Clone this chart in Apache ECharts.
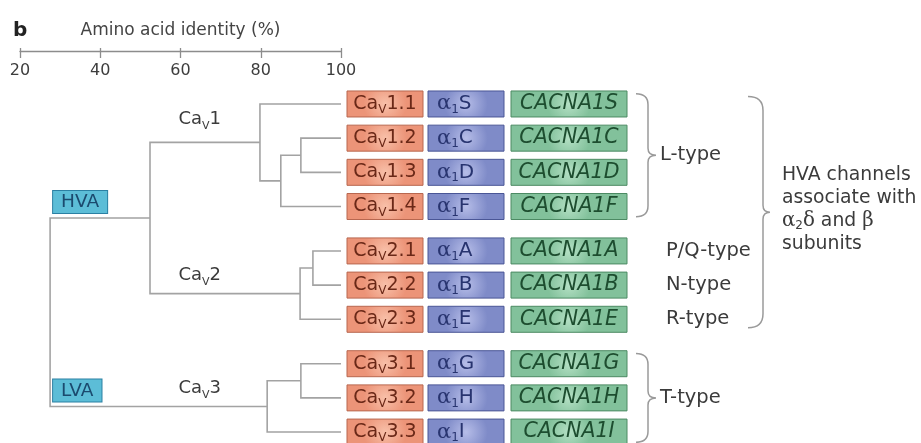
<!DOCTYPE html>
<html><head><meta charset="utf-8">
<script src="https://cdn.jsdelivr.net/npm/echarts@6/dist/echarts.min.js"></script>
<style>html,body{margin:0;padding:0;background:#fff}#c{width:921px;height:443px}</style>
</head><body><div id="c"></div>
<script>
// ---------- data ----------
const axisTicks = [20, 40, 60, 80, 100];
const leafNames = ['1.1','1.2','1.3','1.4','2.1','2.2','2.3','3.1','3.2','3.3'];
const leafGroup = [0,0,0,0,1,1,1,2,2,2];
const proteinNames = ['S','C','D','F','A','B','E','G','H','I'];
const geneNames = ['CACNA1S','CACNA1C','CACNA1D','CACNA1F','CACNA1A','CACNA1B','CACNA1E','CACNA1G','CACNA1H','CACNA1I'];
// merges: [left, right, amino acid identity %]; merge k is referenced as 'm'+k
const merges = [
  ['1.2','1.3',90.0],
  ['m0','1.4',85.0],
  ['1.1','m1',79.8],
  ['2.1','2.2',93.0],
  ['m3','2.3',89.8],
  ['m2','m4',52.4],
  ['3.1','3.2',90.0],
  ['m6','3.3',81.6],
  ['m5','m7',27.5]
];
const cladeNames = ['1','2','3'];
const cladeNodes = ['m2','m4','m7'];
const classNames = ['HVA','LVA'];
const classNodes = ['m5','m7'];
const typeNames = ['L-type','P/Q-type','N-type','R-type','T-type'];
const typeRows = [['1.1','1.4'],['2.1','2.1'],['2.2','2.2'],['2.3','2.3'],['3.1','3.3']];
const typeBrace = [true,false,false,false,true];
const noteLines = ['HVA channels','associate with','{g|α}{s|2}{g|δ}{t| and }{g|β}','subunits'];
const noteRows = ['1.1','2.3'];

// ---------- layout from data ----------
const GAP = 0.3;
const rowY = leafNames.map((n,i)=> i + GAP*leafGroup[i]);
const pos = {};
leafNames.forEach((n,i)=> pos[n] = {x:100, y:rowY[i]});
merges.forEach((m,k)=>{ const a=pos[m[0]], b=pos[m[1]]; pos['m'+k] = {x:m[2], y:(a.y+b.y)/2}; });
const rootId = 'm'+(merges.length-1);
const treeLines = merges.map((m,k)=>{
  const a=pos[m[0]], b=pos[m[1]], n=pos['m'+k];
  return {coords:[[a.x,a.y],[n.x,a.y],[n.x,b.y],[b.x,b.y]]};
});
const rowIdx = n => leafNames.indexOf(n);

const FONT = 'DejaVu Sans';
const SERIF = 'DejaVu Serif';
const TXT = '#3b3b3b';

function grad(c0, c1){
  return new echarts.graphic.RadialGradient(0.5,0.5,0.8,[{offset:0,color:c0},{offset:1,color:c1}]);
}
function rich(fill, size, lh){
  lh = lh || 24;
  return {
    t:{fontSize:size, fontFamily:FONT, fill:fill, lineHeight:lh},
    i:{fontSize:size, fontFamily:FONT, fontStyle:'italic', fill:fill, lineHeight:lh},
    g:{fontSize:size+1, fontFamily:SERIF, fill:fill, lineHeight:lh},
    s:{fontSize:Math.round(size*0.62), fontFamily:FONT, fill:fill, lineHeight:12, verticalAlign:'bottom'}
  };
}

function renderRow(params, api){
  const i = api.value(2);
  const p = api.coord([api.value(0), api.value(1)]);
  const x0 = p[0] + 6, h = 26, top = p[1] - h/2;
  const boxes = [
    {x:x0, w:76, c:['#f8c0a9','#ec9478'], s:'#b8674f'},
    {x:x0+81, w:76, c:['#b6bde8','#7f8bc8'], s:'#4a5696'},
    {x:x0+164, w:116, c:['#b4e0c4','#82c19b'], s:'#4c8a63'}
  ];
  const ch = boxes.map(b=>({type:'rect', shape:{x:b.x, y:top, width:b.w, height:h},
    style:{fill:grad(b.c[0],b.c[1]), stroke:b.s, lineWidth:1}}));
  ch.push({type:'text', style:{x:x0+38, y:p[1], align:'center', verticalAlign:'middle',
    text:'{t|Ca}{s|V}{t|'+leafNames[i]+'}', rich:rich('#6a2817',19)}});
  ch.push({type:'text', style:{x:x0+81+9, y:p[1], align:'left', verticalAlign:'middle',
    text:'{g|α}{s|1}{t|'+proteinNames[i]+'}', rich:rich('#28346f',20)}});
  ch.push({type:'text', style:{x:x0+164+58, y:p[1], align:'center', verticalAlign:'middle',
    text:'{i|'+geneNames[i]+'}', rich:rich('#1d4d2f',20.5)}});
  return {type:'group', children:ch};
}

function renderClade(params, api){
  const i = api.value(2);
  const p = api.coord([api.value(0), api.value(1)]);
  return {type:'text', style:{x:p[0], y:p[1] - (i===0?23:18), align:'left', verticalAlign:'middle',
    text:'{t|Ca}{s|V}{t|'+cladeNames[i]+'}', rich:rich(TXT,18)}};
}

function renderClass(params, api){
  const i = api.value(2);
  const p = api.coord([api.value(0), api.value(1)]);
  return {type:'text', style:{x:p[0]+3, y:p[1]-5, align:'left', verticalAlign:'bottom',
    text:classNames[i], fontFamily:FONT, fontSize:18.5, fill:'#1b4a6e',
    backgroundColor:'#5cbdd7', borderColor:'#2b80a3', borderWidth:1, padding:[2,8,1,8]}};
}

function bracePath(x0, top, bot, xv, xc, r){
  const mid = (top+bot)/2, r2 = 7;
  return 'M'+x0+' '+top+' Q'+xv+' '+top+' '+xv+' '+(top+r)+
    ' L'+xv+' '+(mid-r2)+' Q'+xv+' '+mid+' '+xc+' '+mid+
    ' Q'+xv+' '+mid+' '+xv+' '+(mid+r2)+
    ' L'+xv+' '+(bot-r)+' Q'+xv+' '+bot+' '+x0+' '+bot;
}

function renderType(params, api){
  const i = api.value(3);
  const a = api.value(1), b = api.value(2);
  const pt = api.coord([100, a-0.3]), pb = api.coord([100, b+0.3]), pm = api.coord([100, (a+b)/2]);
  const x0 = pt[0] + 295;
  const ch = [];
  if (typeBrace[i]) {
    ch.push({type:'path', shape:{pathData:bracePath(x0, pt[1], pb[1], x0+12, x0+20, 11)},
      style:{fill:null, stroke:'#9a9a9a', lineWidth:1.5}});
  }
  ch.push({type:'text', style:{x:x0+(typeBrace[i]?24:30), y:pm[1], align:'left', verticalAlign:'middle',
    text:typeNames[i], fontFamily:FONT, fontSize:19.5, fill:TXT}});
  return {type:'group', children:ch};
}

function renderNote(params, api){
  const a = api.value(1), b = api.value(2);
  const pt = api.coord([100, a-0.22]), pb = api.coord([100, b+0.25]);
  const x0 = pt[0] + 407, mid = (pt[1]+pb[1])/2;
  const r = rich(TXT,18.8,23);
  return {type:'group', children:[
    {type:'path', shape:{pathData:bracePath(x0, pt[1], pb[1], x0+15, x0+22, 14)},
      style:{fill:null, stroke:'#9a9a9a', lineWidth:1.5}},
    {type:'text', style:{x:x0+34, y:mid-3, align:'left', verticalAlign:'middle',
      text:noteLines.map(l=> l.indexOf('{')>=0 ? l : '{t|'+l+'}').join('\n'), rich:r}}
  ]};
}

const chart = echarts.init(document.getElementById('c'), null, {renderer:'canvas'});
chart.setOption({
  animation:false,
  title:{text:'b', left:8, top:16, textStyle:{fontFamily:FONT, fontSize:20, fontWeight:'bold', color:'#222'}},
  grid:{left:20, right:580, top:51, bottom:0, containLabel:false},
  xAxis:[{
    type:'value', position:'top', min:axisTicks[0], max:axisTicks[axisTicks.length-1], interval:20,
    name:'Amino acid identity (%)', nameLocation:'middle', nameGap:12,
    nameTextStyle:{fontFamily:FONT, fontSize:17, color:'#444'},
    axisLine:{show:true, onZero:false, lineStyle:{color:'#8c8c8c', width:1.3}},
    axisTick:{show:true, inside:true, length:7, lineStyle:{color:'#8c8c8c', width:1.3}},
    axisLabel:{inside:true, margin:12, fontFamily:FONT, fontSize:16, color:'#3d3d3d'},
    splitLine:{show:false}
  },{
    type:'value', position:'top', min:axisTicks[0], max:axisTicks[axisTicks.length-1], interval:20,
    axisLine:{show:false, onZero:false}, axisTick:{show:true, inside:false, length:3, lineStyle:{color:'#8c8c8c', width:1.3}},
    axisLabel:{show:false}, splitLine:{show:false}
  }],
  yAxis:{type:'value', inverse:true, min:-1.55, max:9.92, show:false},
  series:[
    {type:'lines', coordinateSystem:'cartesian2d', polyline:true, silent:true, z:1,
      lineStyle:{color:'#a3a3a3', width:1.6, opacity:1}, data:treeLines},
    {type:'custom', clip:false, z:3, renderItem:renderRow,
      data:leafNames.map((n,i)=>[100, rowY[i], i])},
    {type:'custom', clip:false, z:3, renderItem:renderClade,
      data:cladeNodes.map((id,i)=>[59.5, pos[id].y, i])},
    {type:'custom', clip:false, z:3, renderItem:renderClass,
      data:classNodes.map((id,i)=>[pos[rootId].x, pos[id].y, i])},
    {type:'custom', clip:false, z:3, renderItem:renderType,
      data:typeRows.map((r,i)=>[100, rowY[rowIdx(r[0])], rowY[rowIdx(r[1])], i])},
    {type:'custom', clip:false, z:3, renderItem:renderNote,
      data:[[100, rowY[rowIdx(noteRows[0])], rowY[rowIdx(noteRows[1])]]]}
  ]
});
</script></body></html>
